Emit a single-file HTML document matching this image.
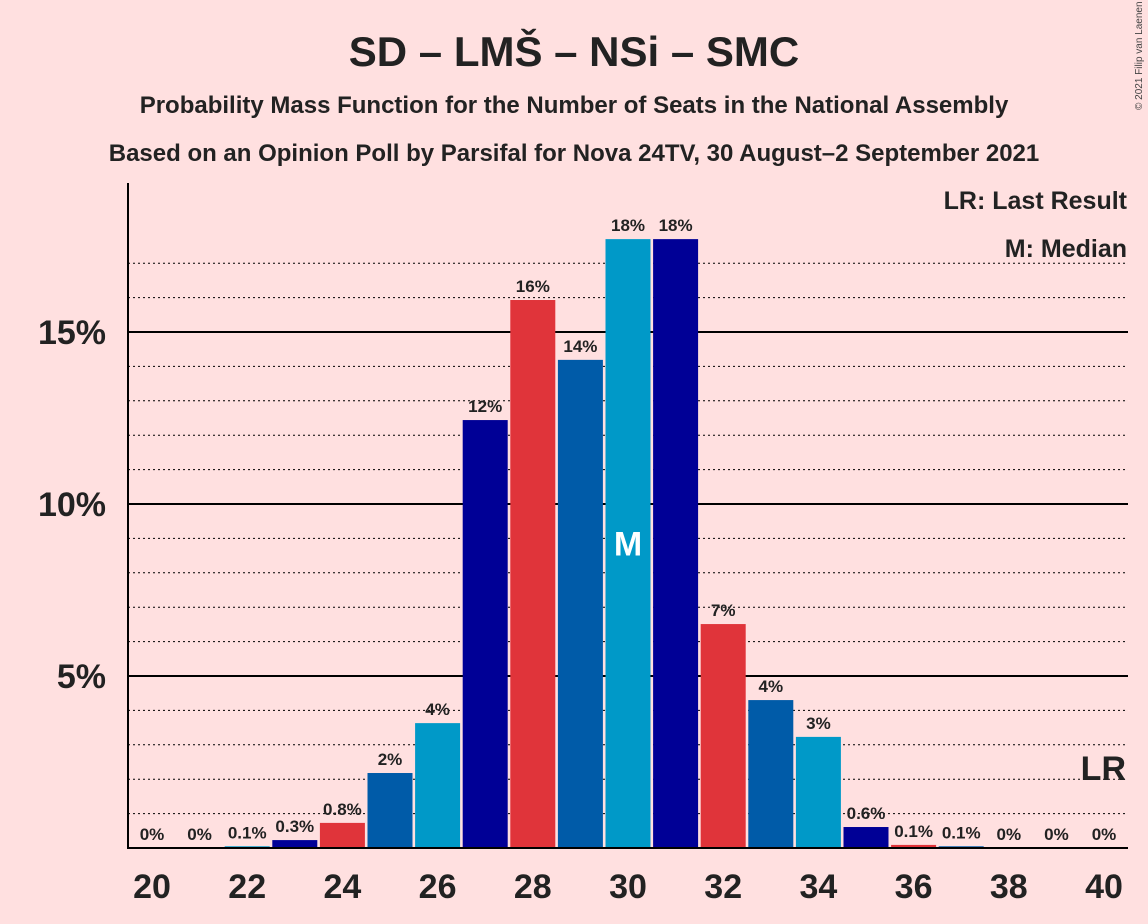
<!DOCTYPE html>
<html><head><meta charset="utf-8"><style>
body{margin:0;background:#ffe0e0;font-family:"Liberation Sans",sans-serif;}
svg{display:block}
</style></head><body>
<svg id="c" width="1148" height="924">
<rect width="1148" height="924" fill="#ffe0e0"/>
<text x="574" y="66" text-anchor="middle" font-size="42" font-weight="bold" fill="#222">SD – LMŠ – NSi – SMC</text>
<text x="574" y="113" text-anchor="middle" font-size="24" font-weight="bold" fill="#222">Probability Mass Function for the Number of Seats in the National Assembly</text>
<text x="574" y="161" text-anchor="middle" font-size="24" font-weight="bold" fill="#222">Based on an Opinion Poll by Parsifal for Nova 24TV, 30 August–2 September 2021</text>
<text x="1142" y="110" font-size="10" fill="#444" transform="rotate(-90 1142 110)">© 2021 Filip van Laenen</text>
<g id="grid"></g>
<g id="bars"></g>
<g id="labels"></g>
<line x1="128" y1="183" x2="128" y2="849" stroke="#000" stroke-width="2"/>
<line x1="128" y1="848" x2="1128" y2="848" stroke="#000" stroke-width="2"/>
<rect x="940" y="185" width="190" height="30" fill="#ffe0e0"/>
<text x="1127" y="209" text-anchor="end" font-size="25" font-weight="bold" fill="#222">LR: Last Result</text>
<rect x="995" y="234" width="135" height="27" fill="#ffe0e0"/>
<text x="1127" y="257" text-anchor="end" font-size="25" font-weight="bold" fill="#222">M: Median</text>
</svg>
<script>
const seats=[20,21,22,23,24,25,26,27,28,29,30,31,32,33,34,35,36,37,38,39,40];
const probs=[0,0,0.05,0.23,0.73,2.18,3.63,12.44,15.93,14.19,17.7,17.7,6.51,4.3,3.23,0.61,0.09,0.05,0,0,0];
const labelsTxt=["0%","0%","0.1%","0.3%","0.8%","2%","4%","12%","16%","14%","18%","18%","7%","4%","3%","0.6%","0.1%","0.1%","0%","0%","0%"];
const yTicks=[5,10,15];
const xTicks=[20,22,24,26,28,30,32,34,36,38,40];
const medianSeat=30, lastResult=40;
const NS='http://www.w3.org/2000/svg';
const xS=s=>152+(s-20)*47.6;
const yS=v=>848-v*34.4;
const colors=["#e0343a","#005ba8","#0099c8","#000096"];
function mk(t,a,p){const e=document.createElementNS(NS,t);for(const k in a)e.setAttribute(k,a[k]);p.appendChild(e);return e;}
const g=document.getElementById('grid'),b=document.getElementById('bars'),l=document.getElementById('labels');
for(let v=1;v<=17;v++){
  const solid=v%5===0;
  const ln=mk('line',{x1:128,x2:1128,y1:yS(v),y2:yS(v),stroke:'#000','stroke-width':solid?2:1,'stroke-dasharray':solid?'':'2,3'},g);
  
  
}
yTicks.forEach(v=>{
  const t=mk('text',{x:106,y:yS(v)+12,'text-anchor':'end','font-size':34,'font-weight':'bold',fill:'#222'},g);
  t.textContent=v+'%';
  
  
});
xTicks.forEach(s=>{
  const t=mk('text',{x:xS(s),y:898,'text-anchor':'middle','font-size':34,'font-weight':'bold',fill:'#222'},g);
  t.textContent=s;
  
  
});
seats.forEach((s,i)=>{
  const v=probs[i];
  if(v>0){
    const r=mk('rect',{x:xS(s)-22.5,y:yS(v),width:45,height:848-yS(v),fill:colors[s%4]},b);
    
    
  }
  const t=mk('text',{x:xS(s),y:yS(v)-8,'text-anchor':'middle','font-size':17,'font-weight':'bold',fill:'#222'},l);
  t.textContent=labelsTxt[i];
  
  
  if(s===medianSeat){
    const m=mk('text',{x:xS(s),y:yS(v/2)+12,'text-anchor':'middle','font-size':34,'font-weight':'bold',fill:'#fff'},l);
    m.textContent='M';
    
    
  }
  if(s===lastResult){
    const m=mk('text',{x:xS(s)+22,y:780,'text-anchor':'end','font-size':34,'font-weight':'bold',fill:'#222'},l);
    m.textContent='LR';
    
    
  }
});
</script>
</body></html>
